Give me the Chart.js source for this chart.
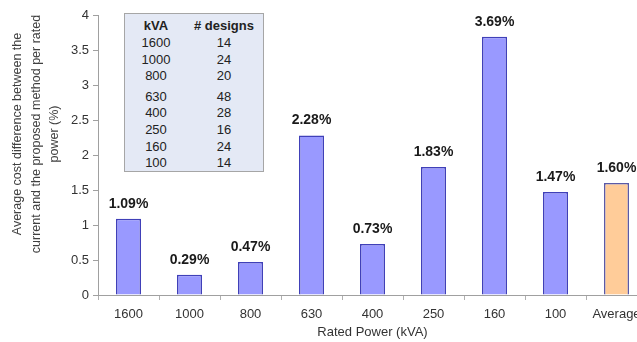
<!DOCTYPE html>
<html lang="en">
<head>
    <meta charset="UTF-8">
    <title>Rated Power</title>
    <script src="https://cdn.jsdelivr.net/npm/chart.js@4/dist/chart.umd.min.js"></script>
    <style>
        body { margin: 0; overflow: hidden; background: #fff; }
        #wrap { position: relative; width: 650px; height: 342px; }
        #designs {
            position: absolute; left: 124px; top: 13px; width: 138px; height: 157px;
            background: #e4e9f5; border: 1px solid #a6a6a6;
            font-family: Arial, "Liberation Sans", sans-serif; font-size: 13px; color: #222;
        }
        #designs div { position: absolute; text-align: center; line-height: 16px; }
    </style>
    <script>
        var categories = ['1600', '1000', '800', '630', '400', '250', '160', '100', 'Average'];
        var costDiff = [1.09, 0.29, 0.47, 2.28, 0.73, 1.83, 3.69, 1.47, 1.60];
        var yTicks = [0, 0.5, 1, 1.5, 2, 2.5, 3, 3.5, 4];
        var tableKva = ['1600', '1000', '800', '630', '400', '250', '160', '100'];
        var tableDesigns = [14, 24, 20, 48, 28, 16, 24, 14];

        var yTitle = ['Average cost difference between the',
                      'current and the proposed method per rated',
                      'power (%)'];

        window.onload = function () {
            // side table of design counts
            var box = document.getElementById('designs');
            function cell(txt, left, width, top, bold) {
                var d = document.createElement('div');
                d.textContent = txt;
                d.style.left = left + 'px';
                d.style.width = width + 'px';
                d.style.top = top + 'px';
                if (bold) d.style.fontWeight = 'bold';
                box.appendChild(d);
            }
            cell('kVA', 0, 62, 4, true);
            cell('# designs', 62, 74, 4, true);
            for (var i = 0; i < tableKva.length; i++) {
                var top = 21 + i * 16.6 + (i >= 3 ? 4 : 0);
                cell(tableKva[i], 0, 62, top, false);
                cell(String(tableDesigns[i]), 62, 74, top, false);
            }

            var barFill = costDiff.map(function (v, i) {
                return categories[i] === 'Average' ? '#ffcc99' : '#9999ff';
            });
            var barEdge = costDiff.map(function (v, i) {
                return categories[i] === 'Average' ? '#5a5aa8' : '#4040b8';
            });

            // value labels over the bars
            var valueLabels = {
                id: 'valueLabels',
                afterDatasetsDraw: function (chart) {
                    var ctx = chart.ctx;
                    var meta = chart.getDatasetMeta(0);
                    ctx.save();
                    ctx.font = 'bold 14px Arial, "Liberation Sans"';
                    ctx.fillStyle = '#1a1a1a';
                    ctx.textAlign = 'center';
                    ctx.textBaseline = 'alphabetic';
                    meta.data.forEach(function (bar, i) {
                        ctx.fillText(costDiff[i].toFixed(2) + '%', bar.x, bar.y - 11);
                    });
                    ctx.restore();
                }
            };

            // rotated three line title for the value axis
            var yAxisTitle = {
                id: 'yAxisTitle',
                afterDraw: function (chart) {
                    var ctx = chart.ctx;
                    ctx.save();
                    ctx.translate(0, 134);
                    ctx.rotate(-Math.PI / 2);
                    ctx.font = '12.5px Arial, "Liberation Sans"';
                    ctx.fillStyle = '#404040';
                    ctx.textAlign = 'center';
                    ctx.textBaseline = 'middle';
                    yTitle.forEach(function (line, i) {
                        ctx.fillText(line, 0, 18 + i * 18.5);
                    });
                    ctx.restore();
                }
            };

            var ctx = document.getElementById('powerChart');
            new Chart(ctx, {
                type: 'bar',
                data: {
                    labels: categories,
                    datasets: [{
                        data: costDiff,
                        backgroundColor: barFill,
                        borderColor: barEdge,
                        borderWidth: 1.5,
                        barPercentage: 0.82,
                        categoryPercentage: 0.5
                    }]
                },
                options: {
                    responsive: false,
                    animation: false,
                    layout: { padding: { top: 15, right: 3, left: 0, bottom: 0 } },
                    plugins: {
                        legend: { display: false },
                        tooltip: { enabled: false }
                    },
                    scales: {
                        x: {
                            afterFit: function (scale) { scale.height = 47; },
                            grid: {
                                drawOnChartArea: false,
                                offset: true,
                                tickLength: 5,
                                color: '#b0b0b0'
                            },
                            border: { color: '#a0a0a0' },
                            ticks: {
                                padding: 7,
                                color: '#333',
                                font: { family: 'Arial, "Liberation Sans"', size: 13 }
                            },
                            title: {
                                display: true,
                                text: 'Rated Power (kVA)',
                                color: '#333',
                                font: { family: 'Arial, "Liberation Sans"', size: 13 },
                                padding: { top: 0, bottom: 2 }
                            }
                        },
                        y: {
                            min: 0,
                            max: 4,
                            afterFit: function (scale) { scale.width = 98; },
                            afterBuildTicks: function (scale) {
                                scale.ticks = yTicks.map(function (v) { return { value: v }; });
                            },
                            grid: {
                                drawOnChartArea: false,
                                tickLength: 5,
                                color: '#a0a0a0'
                            },
                            border: { color: '#a0a0a0' },
                            ticks: {
                                padding: 4,
                                color: '#333',
                                font: { family: 'Arial, "Liberation Sans"', size: 13 },
                                callback: function (value) { return String(value); }
                            }
                        }
                    }
                },
                plugins: [valueLabels, yAxisTitle]
            });
        };
    </script>
</head>
<body>
    <div id="wrap">
        <canvas id="powerChart" width="650" height="342"></canvas>
        <div id="designs"></div>
    </div>
</body>
</html>
